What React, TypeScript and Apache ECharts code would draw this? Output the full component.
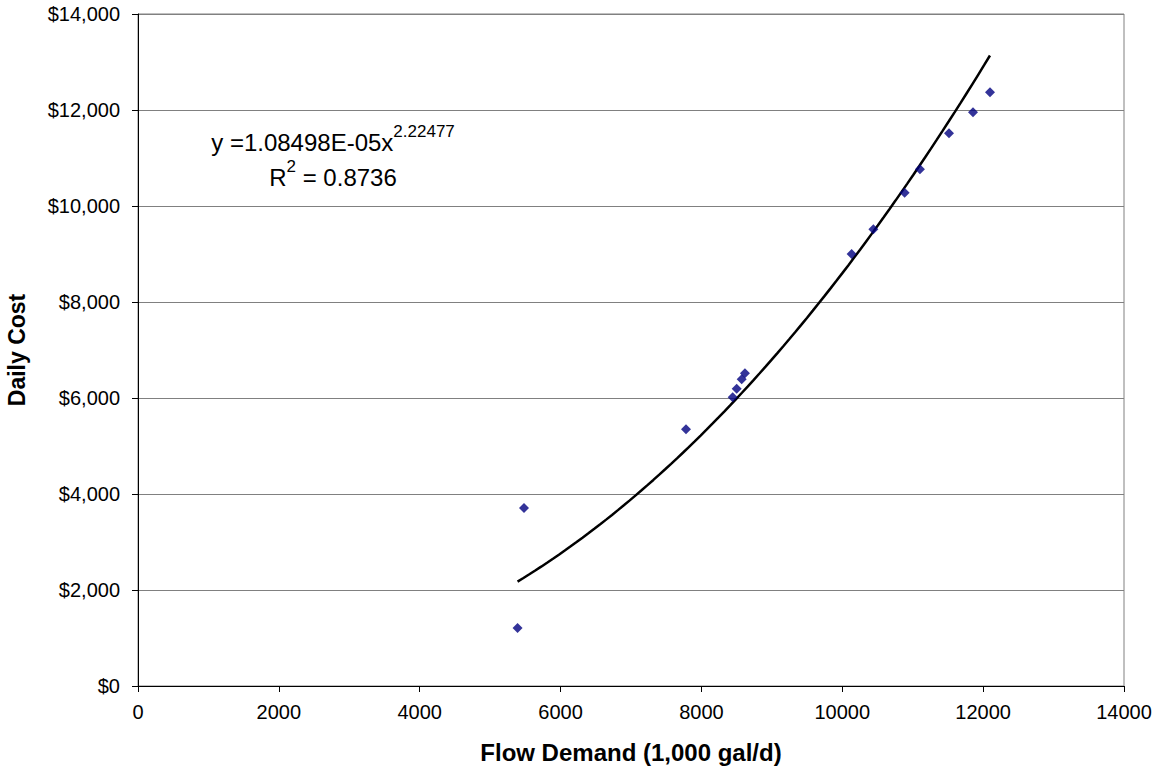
import React, { useEffect, useRef } from "react";
import * as echarts from "echarts";

// Observed data (Flow Demand in 1,000 gal/d, Daily Cost in $)
const flowDemand = [5389, 5481, 7781, 8444, 8501, 8572, 8618, 10133, 10441, 10885, 11103, 11515, 11856, 12097];
const dailyCost = [1210, 3708, 5348, 6015, 6194, 6390, 6515, 9000, 9515, 10277, 10765, 11515, 11952, 12369];

// Power trendline as displayed on the chart
const TREND_COEF = 1.08498e-5;
const TREND_EXP = 2.22477;
const TREND_STEPS = 80;

const xTicks = [0, 2000, 4000, 6000, 8000, 10000, 12000, 14000];
const yTicks = [0, 2000, 4000, 6000, 8000, 10000, 12000, 14000];

const FONT = "'Liberation Sans', Arial, sans-serif";

function measure(text: string, size: number): number {
  const ctx = document.createElement("canvas").getContext("2d");
  if (!ctx) return text.length * size * 0.55;
  ctx.font = `${size}px ${FONT}`;
  return ctx.measureText(text).width;
}

export default function App() {
  const ref = useRef<HTMLDivElement>(null);

  useEffect(() => {
    if (!ref.current) return;
    const chart = echarts.init(ref.current, null, { renderer: "svg" });

    const points = flowDemand.map((x, i) => [x, dailyCost[i]]);
    const xMin = Math.min(...flowDemand);
    const xMax = Math.max(...flowDemand);
    const trend: number[][] = [];
    for (let i = 0; i <= TREND_STEPS; i++) {
      const x = xMin + ((xMax - xMin) * i) / TREND_STEPS;
      trend.push([x, TREND_COEF * Math.pow(x, TREND_EXP)]);
    }

    const mainSize = 24;
    const supSize = 17;
    const eqCenter = 333;
    const line1Main = "y =1.08498E-05x";
    const line1Sup = TREND_EXP.toString();
    const w1a = measure(line1Main, mainSize);
    const w1b = measure(line1Sup, supSize);
    const start1 = eqCenter - (w1a + w1b) / 2;
    const line2a = "R";
    const line2Sup = "2";
    const line2b = " = 0.8736";
    const w2a = measure(line2a, mainSize);
    const w2s = measure(line2Sup, supSize);
    const w2b = measure(line2b, mainSize);
    const start2 = eqCenter - (w2a + w2s + w2b) / 2;
    const y1 = 142;
    const y2 = 177;

    const txt = (text: string, x: number, y: number, size: number) => ({
      type: "text",
      x,
      y,
      style: {
        text,
        fontSize: size,
        fontFamily: FONT,
        fill: "#000",
        verticalAlign: "middle",
        align: "left",
      },
    });

    chart.setOption({
      animation: false,
      backgroundColor: "#fff",
      grid: {
        left: 138,
        right: 38,
        top: 14,
        bottom: 83,
        containLabel: false,
        outerBoundsMode: "none",
        show: true,
        borderColor: "#808080",
        borderWidth: 1,
        backgroundColor: "transparent",
      },
      xAxis: {
        type: "value",
        min: xTicks[0],
        max: xTicks[xTicks.length - 1],
        interval: xTicks[1] - xTicks[0],
        name: "Flow Demand (1,000 gal/d)",
        nameLocation: "middle",
        nameGap: 54,
        nameTextStyle: { fontFamily: FONT, fontSize: 24, fontWeight: "bold", color: "#000" },
        axisLine: { show: true, onZero: false, lineStyle: { color: "#000", width: 1 } },
        axisTick: { show: true, inside: false, length: 6, lineStyle: { color: "#000" } },
        axisLabel: {
          fontFamily: FONT,
          fontSize: 20,
          color: "#000",
          margin: 16,
          formatter: (v: number) => String(v),
        },
        splitLine: { show: false },
      },
      yAxis: {
        type: "value",
        min: yTicks[0],
        max: yTicks[yTicks.length - 1],
        interval: yTicks[1] - yTicks[0],
        name: "Daily Cost",
        nameLocation: "middle",
        nameGap: 110,
        nameTextStyle: { fontFamily: FONT, fontSize: 23, fontWeight: "bold", color: "#000" },
        axisLine: { show: true, onZero: false, lineStyle: { color: "#000", width: 1 } },
        axisTick: { show: true, inside: false, length: 6, lineStyle: { color: "#000" } },
        axisLabel: {
          fontFamily: FONT,
          fontSize: 20,
          color: "#000",
          margin: 18,
          formatter: (v: number) => "$" + v.toLocaleString("en-US"),
        },
        splitLine: { show: true, lineStyle: { color: "#808080", width: 1 } },
      },
      series: [
        {
          type: "line",
          data: trend,
          showSymbol: false,
          symbol: "none",
          lineStyle: { color: "#000", width: 2.5 },
          z: 2,
        },
        {
          type: "scatter",
          data: points,
          symbol: "diamond",
          symbolSize: 10,
          itemStyle: { color: "#000080" },
          z: 3,
        },
      ],
      graphic: [
        txt(line1Main, start1, y1, mainSize),
        txt(line1Sup, start1 + w1a, y1 - 11, supSize),
        txt(line2a, start2, y2, mainSize),
        txt(line2Sup, start2 + w2a, y2 - 11, supSize),
        txt(line2b, start2 + w2a + w2s, y2, mainSize),
      ],
    });

    return () => chart.dispose();
  }, []);

  return (
    <div
      ref={ref}
      style={{ position: "fixed", left: 0, top: 0, width: 1162, height: 769, background: "#fff" }}
    />
  );
}
